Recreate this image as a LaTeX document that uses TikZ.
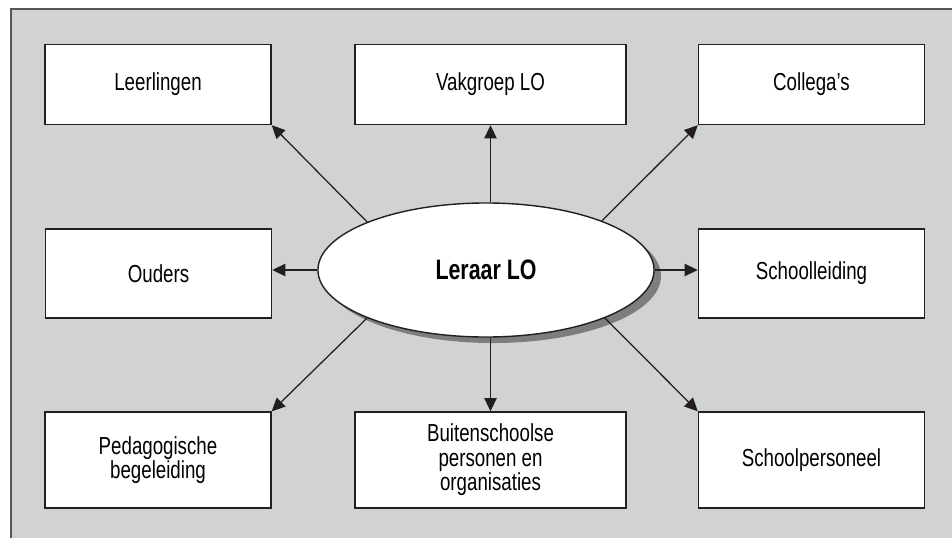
\documentclass[tikz,border=0pt]{standalone}
\usepackage{fontspec}
\setmainfont{Liberation Sans}[FakeStretch=0.76]
\usepackage{tikz}
\usepackage{xcolor}
\usetikzlibrary{positioning,arrows.meta,shapes.geometric,shadows}

\definecolor{bg-gray}{RGB}{209,210,212}
\definecolor{frame-gray}{RGB}{85,85,87}
\definecolor{shade-gray}{RGB}{125,125,128}
\definecolor{ink}{RGB}{35,31,32}

\begin{document}
\begin{tikzpicture}
[
x=0.025cm, y=-0.025cm,
box-a/.style={rectangle, draw=ink, fill=white, line width=1pt, minimum width=5.65cm, minimum height=2cm, align=center, inner sep=0pt, font=\fontsize{17.5}{17.5}\selectfont},
box-b/.style={box-a, minimum width=6.78cm},
ellipse-a/.style={ellipse, draw=ink, fill=white, line width=1pt, minimum width=8.4cm, minimum height=3.35cm, inner sep=0pt, font=\fontsize{20}{22}\selectfont\bfseries, drop shadow={shadow xshift=0.175cm, shadow yshift=-0.15cm, fill=shade-gray, opacity=1}},
arrow-a/.style={draw=ink, line width=0.9pt, -{Triangle[length=3.3mm, width=3.1mm]}}
]
\useasboundingbox (0,0) rectangle (952,538);
% frame
\fill[bg-gray] (11,9) rectangle (952,538);
\draw[frame-gray, line width=1.5pt] (11,538) -- (11,9) -- (952,9);
% centre
\node (leraar)  [ellipse-a] at (486,270) {Leraar LO};
% top row
\node (leerl)   [box-a] at (158,84.5)  {Leerlingen};
\node (vakgr)   [box-b] at (490.5,84.5) {Vakgroep LO};
\node (colleg)  [box-a] at (811.5,84.5) {Collega's};
% middle row
\node (ouders)  [box-a, minimum height=2.225cm] at (158.5,273.5) {Ouders};
\node (schleid) [box-a, minimum height=2.225cm] at (811.5,273.5) {Schoolleiding};
% bottom row
\node (pedag)   [box-a, minimum height=2.4cm] at (158,460)   {Pedagogische\\begeleiding};
\node (buiten)  [box-b, minimum height=2.4cm] at (490.5,460) {Buitenschoolse\\personen en\\organisaties};
\node (pers)    [box-a, minimum height=2.4cm] at (811.5,460) {Schoolpersoneel};
% connectors
\draw[arrow-a] (leraar.158) -- (leerl.south east);
\draw[arrow-a] (leraar.north -| vakgr.south) -- (vakgr.south);
\draw[arrow-a] (leraar.23)  -- (colleg.south west);
\draw[arrow-a] (leraar.west) -- (leraar.west -| ouders.east);
\draw[arrow-a] (leraar.east) -- (leraar.east -| schleid.west);
\draw[arrow-a] (leraar.202) -- (pedag.north east);
\draw[arrow-a] (leraar.south -| buiten.north) -- (buiten.north);
\draw[arrow-a] (leraar.338) -- (pers.north west);
\end{tikzpicture}
\end{document}
